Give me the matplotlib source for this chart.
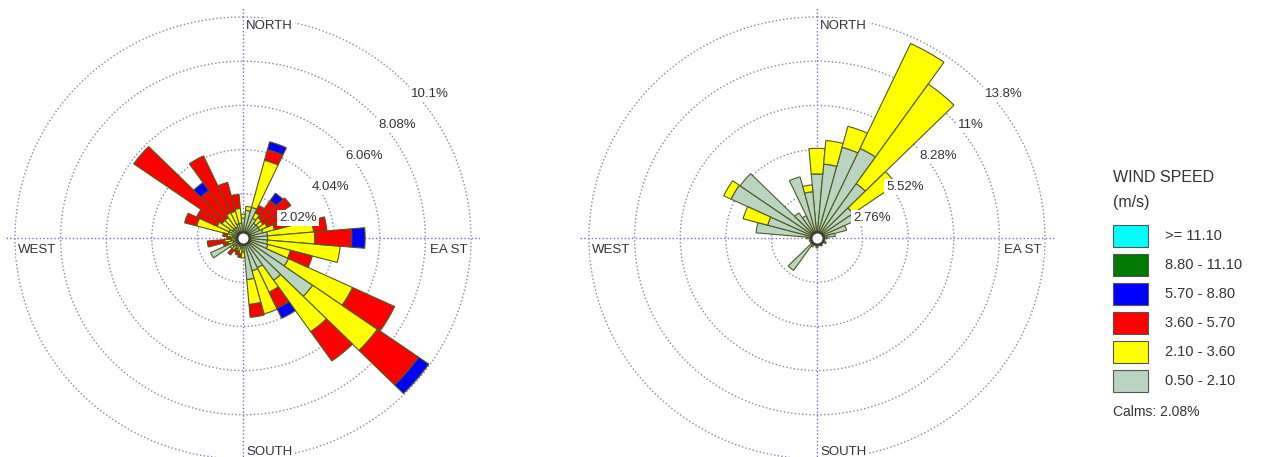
import numpy as np
import matplotlib.pyplot as plt
from matplotlib.patches import Rectangle

plt.rcParams['font.family'] = ['Liberation Sans', 'DejaVu Sans']

# sector centres (compass degrees, clockwise from north)
directions = list(range(0, 360, 10))

# left rose, percent per speed class
left_green = [0.91, 1.27, 1.45, 1.00, 0.82, 0.82, 0.82, 0.91, 1.09, 1.09, 1.09, 1.14,
              2.23, 3.77, 2.36, 1.50, 1.55, 1.91, 0.64, 0.45, 0.36, 0.36, 0.45, 0.55,
              1.59, 0.45, 0.55, 0.36, 0.45, 0.68, 0.68, 0.55, 0.55, 0.55, 0.68, 0.68]
left_yellow = [0.18, 0.18, 2.23, 0.27, 0.32, 0.27, 0.36, 0.54, 2.05, 2.09, 3.23, 1.04,
               3.13, 3.50, 2.87, 1.23, 2.04, 1.14, 0.27, 0.27, 0.27, 0.18, 0.23, 0.14,
               0.00, 0.23, 0.27, 0.18, 0.27, 1.45, 0.59, 0.59, 0.59, 0.73, 0.59, 0.68]
left_red = [0.00, 0.00, 0.50, 0.37, 0.95, 1.50, 1.09, 0.73, 0.59, 1.64, 0.00, 1.00,
            2.05, 2.23, 1.63, 0.82, 0.00, 0.59, 0.00, 0.18, 0.18, 0.18, 0.27, 0.00,
            0.00, 0.23, 0.77, 0.18, 0.18, 0.55, 1.00, 4.77, 1.50, 2.86, 1.36, 0.64]
left_blue = [0.00, 0.00, 0.37, 0.00, 0.41, 0.00, 0.00, 0.00, 0.00, 0.59, 0.00, 0.00,
             0.00, 0.55, 0.00, 0.50, 0.00, 0.00, 0.00, 0.00, 0.00, 0.00, 0.00, 0.00,
             0.00, 0.00, 0.00, 0.00, 0.00, 0.00, 0.00, 0.00, 0.45, 0.00, 0.00, 0.00]

# right rose, percent per speed class
right_green = [4.00, 4.63, 5.86, 6.17, 4.14, 2.65, 2.47, 1.85, 1.11, 0.62, 0.37, 0.49,
               0.62, 0.37, 0.31, 0.56, 0.37, 0.49, 0.62, 0.49, 0.37, 0.62, 2.47, 0.49,
               0.37, 0.49, 0.31, 0.62, 3.70, 3.09, 5.74, 5.68, 1.91, 1.54, 3.95, 2.90]
right_yellow = [1.60, 1.48, 1.36, 7.23, 7.59, 3.21, 0.00, 0.00, 0.00, 0.00, 0.00, 0.00,
                0.00, 0.00, 0.00, 0.00, 0.00, 0.00, 0.00, 0.00, 0.00, 0.00, 0.00, 0.00,
                0.00, 0.00, 0.00, 0.00, 0.00, 1.54, 0.49, 0.00, 0.00, 0.00, 0.00, 0.43]

left_rings = [2.02, 4.04, 6.06, 8.08, 10.1]
left_ring_labels = ['2.02%', '4.04%', '6.06%', '8.08%', '10.1%']
right_rings = [2.76, 5.52, 8.28, 11.04, 13.8]
right_ring_labels = ['2.76%', '5.52%', '8.28%', '11%', '13.8%']

speed_labels = ['>= 11.10', '8.80 - 11.10', '5.70 - 8.80', '3.60 - 5.70', '2.10 - 3.60', '0.50 - 2.10']
speed_colors = ['#00ffff', '#007a00', '#0000ff', '#ff0000', '#ffff00', '#b9d4c0']
calms = '2.08%'

EDGE = '#4f5a22'
TXT = '#333333'
PAD = 1.04          # room outside the last ring
RX, RY = 228, 221   # outer ring radius in pixels (slightly stretched)
HW, HH = RX * PAD, RY * PAD


def draw_rose(ax, classes, rings, ring_labels):
    theta = np.deg2rad(directions)
    bottom = np.zeros(len(directions))
    for vals, col in classes:
        vals = np.array(vals)
        m = vals > 0
        ax.bar(theta[m], vals[m], width=np.deg2rad(10), bottom=bottom[m], color=col,
               edgecolor=EDGE, linewidth=0.8, zorder=3)
        bottom += vals
    ax.plot(0, 0, 'o', ms=9, mfc='white', mec='#3a3a3a', mew=1.8, zorder=6)

    ax.set_theta_zero_location('N')
    ax.set_theta_direction(-1)
    ax.set_ylim(0, rings[-1] * PAD)
    ax.set_thetagrids([0, 90, 180, 270], labels=[])
    ax.set_rgrids(rings, labels=[])
    ax.xaxis.grid(True, color='#6c6cc8', linestyle=':', linewidth=1.0)
    ax.yaxis.grid(True, color='#8686b0', linestyle=':', linewidth=1.0)
    ax.tick_params(length=0)
    ax.spines['polar'].set_visible(False)
    ax.set_axisbelow(True)
    ax.set_aspect('auto')

    box = dict(facecolor='white', edgecolor='none', pad=1.2)
    kw = dict(transform=ax.transAxes, va='center', fontsize=9.5, color=TXT, bbox=box, zorder=7)
    for k, lab in enumerate(ring_labels):
        ax.text(0.5 + (55 + 33 * k) / (2 * HW), 0.5 + (20 + 31 * k) / (2 * HH), lab, ha='center', **kw)
    ax.text(0.5 + 3 / (2 * HW), 0.5 + 212 / (2 * HH), 'NORTH', ha='left', **kw)
    ax.text(0.5 + 3 / (2 * HW), 0.5 - 214 / (2 * HH), 'SOUTH', ha='left', **kw)
    ax.text(0.5 - 225 / (2 * HW), 0.5 - 12 / (2 * HH), 'WEST', ha='left', **kw)
    ax.text(0.5 + 225 / (2 * HW), 0.5 - 12 / (2 * HH), 'EA ST', ha='right', **kw)


W, H = 1267, 457
fig = plt.figure(figsize=(W / 100, H / 100), dpi=100)

ax1 = fig.add_axes([(243 - HW) / W, (H - 238 - HH) / H, 2 * HW / W, 2 * HH / H], projection='polar')
draw_rose(ax1, [(left_green, speed_colors[5]), (left_yellow, speed_colors[4]),
                (left_red, speed_colors[3]), (left_blue, speed_colors[2])],
          left_rings, left_ring_labels)

ax2 = fig.add_axes([(817 - HW) / W, (H - 238 - HH) / H, 2 * HW / W, 2 * HH / H], projection='polar')
draw_rose(ax2, [(right_green, speed_colors[5]), (right_yellow, speed_colors[4])],
          right_rings, right_ring_labels)

# legend
fig.text(1113 / W, 1 - 178 / H, 'WIND SPEED', ha='left', va='center', fontsize=11.5, color=TXT)
fig.text(1113 / W, 1 - 203 / H, '(m/s)', ha='left', va='center', fontsize=11.5, color=TXT)
for i, (lab, col) in enumerate(zip(speed_labels, speed_colors)):
    yc = 236 + 29 * i
    fig.patches.append(Rectangle((1113 / W, 1 - (yc + 11) / H), 35 / W, 22 / H,
                                 transform=fig.transFigure, facecolor=col,
                                 edgecolor='#555555', linewidth=0.8))
    fig.text(1165 / W, 1 - yc / H, lab, ha='left', va='center', fontsize=10.5, color=TXT)
fig.text(1113 / W, 1 - 412 / H, 'Calms: ' + calms, ha='left', va='center', fontsize=10, color=TXT)

fig.savefig('out.png', dpi=100)
